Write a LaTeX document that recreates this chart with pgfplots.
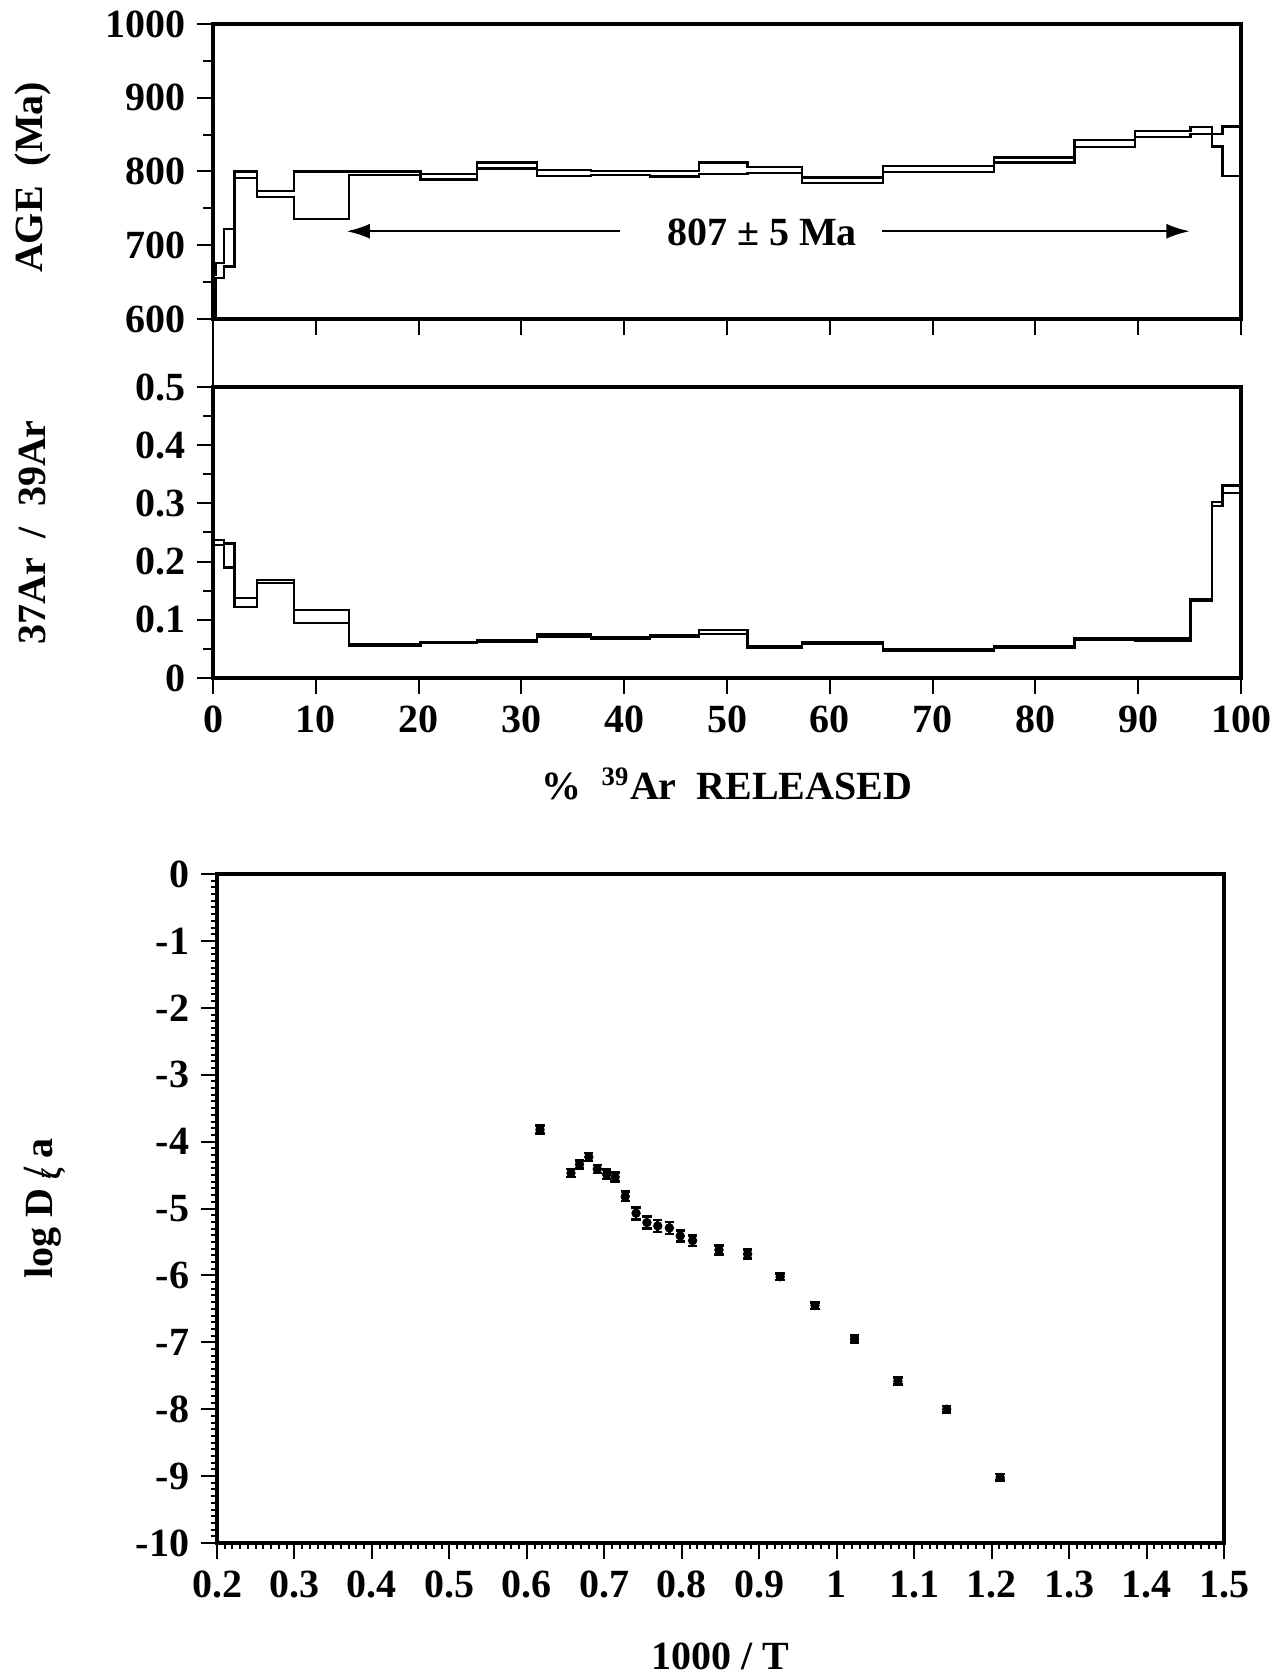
\documentclass[border=0pt]{standalone}
\usepackage{fontspec}
\setmainfont{Liberation Serif}
\usepackage{pgfplots}
\pgfplotsset{compat=1.18}
\usepackage{pgfplotstable}
\usetikzlibrary{arrows.meta}

\pgfplotstableread{
x hi lo
0 660 600
0.3 676 656
1.1 722 671
2.1 800 791
4.3 774 765
7.9 800 736
13.2 800 795
20.2 797 789
25.7 812 804
31.5 802 794
36.8 801 795
42.5 801 793
47.3 812 797
52.0 806 798
57.3 792 784
65.2 807 799
76.0 819 812
83.8 843 833
89.7 855 847
95.1 860 851
97.2 851 834
98.2 861 794
100 861 794
}\agetab

\pgfplotstableread{
x hi lo
0 0.237 0.229
1.1 0.231 0.190
2.1 0.137 0.122
4.3 0.168 0.163
7.9 0.117 0.094
13.2 0.058 0.055
20.2 0.062 0.060
25.7 0.065 0.062
31.5 0.075 0.071
36.8 0.070 0.067
42.5 0.073 0.070
47.3 0.083 0.076
52.0 0.054 0.051
57.3 0.061 0.058
65.2 0.050 0.047
76.0 0.055 0.052
83.8 0.069 0.066
89.7 0.068 0.064
95.1 0.136 0.132
97.2 0.302 0.295
98.2 0.331 0.318
100 0.331 0.318
}\catab

\pgfplotstableread{
x y e
0.617 -3.82 0.06
0.657 -4.47 0.06
0.668 -4.34 0.06
0.680 -4.23 0.06
0.691 -4.41 0.06
0.703 -4.49 0.07
0.714 -4.53 0.07
0.727 -4.82 0.07
0.741 -5.07 0.09
0.755 -5.21 0.09
0.769 -5.26 0.09
0.784 -5.29 0.09
0.798 -5.41 0.08
0.814 -5.48 0.08
0.848 -5.62 0.07
0.885 -5.68 0.07
0.927 -6.02 0.05
0.972 -6.45 0.05
1.023 -6.95 0.05
1.079 -7.58 0.05
1.142 -8.00 0.05
1.211 -9.02 0.05
}\arrtab

\pgfplotsset{
  panel/.style={
    scale only axis,
    axis line style={line width=1.1pt},
    tick align=outside,
    tick pos=left,
    major tick length=4.8pt,
    minor tick length=3pt,
    every tick/.style={black, line width=0.6pt},
    /pgf/number format/assume math mode=true,
    /pgf/number format/1000 sep={},
    tick label style={font=\fontsize{12}{14}\selectfont\bfseries},
    label style={font=\fontsize{12}{14}\selectfont\bfseries},
  },
  steps/.style={const plot, black, line width=0.7pt},
}

\begin{document}
\begin{tikzpicture}[font=\fontsize{12}{14}\selectfont\bfseries]
\useasboundingbox (0,0) rectangle (385.8pt,-502.8pt);

% ---------- top: age spectrum ----------
\begin{axis}[panel,
  at={(63.9pt,-95.7pt)}, anchor=south west,
  width=308.4pt, height=88.5pt,
  xmin=0, xmax=100, ymin=600, ymax=1000,
  xtick={0,10,...,100}, xticklabels={},
  ytick={600,700,800,900,1000},
  minor ytick={650,750,850,950},
  ylabel={AGE\ \ (Ma)},
  ylabel style={at={(axis description cs:-0.175,0.48)}, anchor=center},
]
\addplot[steps] table[x=x, y=hi] {\agetab};
\addplot[steps] table[x=x, y=lo] {\agetab};
\addplot[black, line width=0.7pt] coordinates {(0,600) (0,660)};
\draw[-{Latex[length=7pt,width=4.5pt]}, line width=0.6pt] (axis cs:39.6,719) -- (axis cs:13,719);
\draw[-{Latex[length=7pt,width=4.5pt]}, line width=0.6pt] (axis cs:65.1,719) -- (axis cs:95,719);
\node at (axis cs:53.4,718) {807 ± 5 Ma};
\end{axis}

% ---------- middle: 37Ar/39Ar ----------
\begin{axis}[panel,
  at={(63.9pt,-203.4pt)}, anchor=south west,
  width=308.4pt, height=87.3pt,
  xmin=0, xmax=100, ymin=0, ymax=0.5,
  xtick={0,10,...,100},
  ytick={0,0.1,0.2,0.3,0.4,0.5},
  minor ytick={0.05,0.15,0.25,0.35,0.45},
  ylabel={37Ar\ \ /\ \ 39Ar},
  ylabel style={at={(axis description cs:-0.176,0.5)}, anchor=center},
  xlabel={\%\ \ \textsuperscript{39}Ar\ \ RELEASED},
  xlabel style={at={(axis description cs:0.5,-0.364)}, anchor=center},
]
\addplot[steps] table[x=x, y=hi] {\catab};
\addplot[steps] table[x=x, y=lo] {\catab};
\end{axis}

\draw[line width=0.6pt] (63.9pt,-95.7pt) -- (63.9pt,-116.1pt);

% ---------- bottom: Arrhenius ----------
\begin{axis}[panel,
  at={(65.1pt,-462.9pt)}, anchor=south west,
  width=302.1pt, height=200.7pt,
  xmin=0.2, xmax=1.5, ymin=-10, ymax=0,
  xtick={0.2,0.3,0.4,0.5,0.6,0.7,0.8,0.9,1,1.1,1.2,1.3,1.4,1.5},
  xticklabels={0.2,0.3,0.4,0.5,0.6,0.7,0.8,0.9,1,1.1,1.2,1.3,1.4,1.5},
  ytick={-10,-9,-8,-7,-6,-5,-4,-3,-2,-1,0},
  yticklabels={-10,-9,-8,-7,-6,-5,-4,-3,-2,-1,0},
  minor x tick num=9, minor y tick num=9,
  minor tick length=1.8pt,
  ylabel={log D \raisebox{0.1ex}{/}\kern-0.32em\raisebox{-0.45ex}{\footnotesize ζ}\ a},
  ylabel style={at={(axis description cs:-0.171,0.5)}, anchor=center},
  xlabel={1000 / T},
  xlabel style={at={(axis description cs:0.5,-0.169)}, anchor=center},
]
\addplot[black, only marks, mark=*, mark size=1.2pt,
  error bars/.cd, y dir=both, y explicit,
  error bar style={line width=0.8pt, black},
  error mark options={rotate=90, mark size=1.4pt, line width=0.8pt, black}]
  table[x=x, y=y, y error=e] {\arrtab};
\end{axis}
\end{tikzpicture}
\end{document}
